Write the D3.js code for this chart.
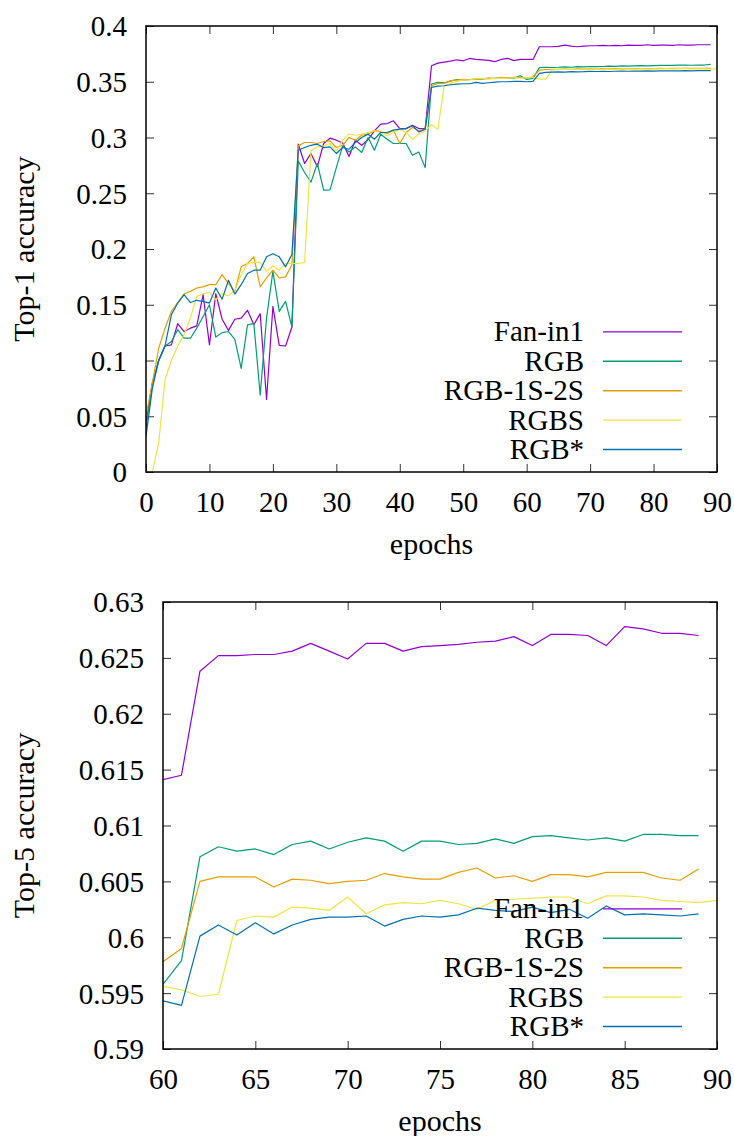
<!DOCTYPE html>
<html>
<head>
<meta charset="utf-8">
<script src="https://cdn.jsdelivr.net/npm/d3@7"></script>
<style>
  body { margin: 0; background: #fff; }
  svg text { font-family: "Liberation Serif"; fill: #000; }
</style>
</head>
<body>
<script>
// serienamn och färger (gnuplot standard)
var seriesNames = ["Fan-in1", "RGB", "RGB-1S-2S", "RGBS", "RGB*"];
var seriesColors = ["#9400d3", "#009e73", "#e69f00", "#f0e442", "#0072b2"];

// Top-1, epoker 0..89 (RGBS har även epok 90)
var top1Fanin = [0.045,0.08,0.1,0.113,0.114,0.133,0.126,0.129,0.131,0.159,0.114,0.16,0.137,0.127,0.137,0.138,0.145,0.132,0.142,0.065,
  0.1485,0.1135,0.113,0.13,0.294,0.2767,0.2857,0.2737,0.2946,0.2994,0.2976,0.295,0.283,0.2976,0.293,0.298,0.306,0.312,0.3125,0.315,
  0.308,0.308,0.311,0.308,0.308,0.3643,0.3667,0.3676,0.3685,0.3697,0.3688,0.3709,0.37,0.3697,0.3691,0.368,0.37,0.371,0.369,0.37,
  0.37,0.37,0.3814,0.3814,0.3814,0.3817,0.3829,0.382,0.3814,0.382,0.3823,0.3823,0.3826,0.3823,0.3826,0.3823,0.3829,0.3826,0.3826,0.3832,
  0.3826,0.3829,0.3829,0.3826,0.3832,0.3829,0.3829,0.3832,0.3832,0.3832];
var top1Rgb = [0.04,0.078,0.1,0.113,0.117,0.1276,0.12,0.12,0.129,0.1395,0.15,0.121,0.125,0.126,0.119,0.093,0.132,0.133,0.069,0.138,
  0.18,0.144,0.153,0.13,0.279,0.2686,0.26,0.2767,0.2528,0.253,0.273,0.2925,0.287,0.2916,0.2866,0.3,0.2886,0.303,0.2985,0.2946,
  0.2946,0.2946,0.284,0.287,0.273,0.348,0.3494,0.3491,0.3506,0.352,0.3515,0.352,0.3523,0.3526,0.353,0.3532,0.3538,0.3538,0.3532,0.3554,
  0.352,0.353,0.3628,0.363,0.3628,0.363,0.3634,0.363,0.3636,0.3634,0.3637,0.3636,0.3637,0.364,0.3638,0.3642,0.364,0.3643,0.3645,0.3643,
  0.3645,0.3646,0.3648,0.3646,0.3649,0.365,0.3648,0.365,0.365,0.3655];
var top1Rgb1s2s = [0.05,0.08,0.111,0.129,0.144,0.152,0.1596,0.162,0.165,0.166,0.168,0.168,0.177,0.169,0.162,0.184,0.187,0.193,0.166,0.174,
  0.181,0.174,0.175,0.186,0.2925,0.2955,0.2955,0.2946,0.2964,0.297,0.291,0.293,0.3,0.2976,0.302,0.303,0.3066,0.305,0.3036,0.3066,
  0.2946,0.3045,0.309,0.306,0.3075,0.3464,0.3485,0.3485,0.351,0.3515,0.3521,0.3518,0.3521,0.3527,0.3533,0.3527,0.354,0.3533,0.354,0.354,
  0.3533,0.3545,0.3605,0.361,0.3612,0.3612,0.3614,0.3612,0.3615,0.3614,0.3615,0.3614,0.3617,0.3615,0.3617,0.3616,0.3618,0.3618,0.3617,0.3619,
  0.3618,0.362,0.3619,0.362,0.362,0.3621,0.362,0.3621,0.3621,0.3622];
var top1Rgbs = [0,0,0.026,0.083,0.1,0.113,0.123,0.138,0.1575,0.16,0.161,0.1545,0.16,0.158,0.163,0.177,0.187,0.188,0.188,0.18,
  0.185,0.181,0.187,0.187,0.187,0.188,0.288,0.2916,0.2925,0.2946,0.288,0.2976,0.303,0.302,0.303,0.3045,0.306,0.3045,0.3015,0.3045,
  0.3075,0.3045,0.2985,0.303,0.306,0.3114,0.3075,0.3464,0.3485,0.3503,0.3515,0.3518,0.3527,0.3533,0.3524,0.3533,0.353,0.3533,0.3536,0.3533,
  0.3536,0.354,0.3524,0.3524,0.3605,0.3611,0.361,0.3612,0.361,0.3612,0.3613,0.3611,0.3613,0.3614,0.3613,0.3614,0.3615,0.3613,0.3615,0.3616,
  0.3615,0.3616,0.3617,0.3615,0.3617,0.3617,0.3616,0.3616,0.3615,0.3614,0.3616];
var top1RgbStar = [0.032,0.075,0.1,0.113,0.141,0.1515,0.159,0.152,0.154,0.153,0.1515,0.165,0.155,0.172,0.1596,0.168,0.178,0.181,0.181,0.193,
  0.1957,0.193,0.184,0.195,0.2886,0.291,0.293,0.294,0.291,0.2916,0.2857,0.291,0.2895,0.2955,0.3,0.303,0.2985,0.3045,0.3045,0.3066,
  0.3075,0.308,0.3105,0.305,0.3075,0.345,0.3461,0.3464,0.3473,0.3479,0.3482,0.3482,0.3494,0.3485,0.3491,0.3497,0.35,0.35,0.3503,0.3503,
  0.35,0.3503,0.3575,0.3584,0.3587,0.3588,0.3587,0.359,0.3589,0.359,0.3593,0.3592,0.3593,0.3592,0.3594,0.3595,0.3594,0.3596,0.3596,0.3597,
  0.3596,0.3597,0.3598,0.3597,0.3598,0.3599,0.3598,0.3599,0.3599,0.36];

// Top-5, epoker 60..89 (RGBS 60..90)
var top5Fanin = [0.6141,0.6145,0.6238,0.6252,0.6252,0.6253,0.6253,0.6256,0.6263,0.6256,0.6249,0.6263,0.6263,0.6256,0.626,
  0.6261,0.6262,0.6264,0.6265,0.6269,0.6261,0.6271,0.6271,0.627,0.6261,0.6278,0.6276,0.6272,0.6272,0.627];
var top5Rgb = [0.5958,0.5979,0.6072,0.6081,0.6077,0.6079,0.6074,0.6083,0.6086,0.6079,0.6085,0.6089,0.6086,0.6077,0.6086,
  0.6086,0.6083,0.6084,0.6088,0.6084,0.609,0.6091,0.6089,0.6087,0.6089,0.6086,0.6092,0.6092,0.6091,0.6091];
var top5Rgb1s2s = [0.5978,0.599,0.605,0.6054,0.6054,0.6054,0.6045,0.6052,0.6051,0.6048,0.605,0.6051,0.6057,0.6054,0.6052,
  0.6052,0.6058,0.6062,0.6053,0.6055,0.605,0.6056,0.6056,0.6054,0.6058,0.6058,0.6058,0.6053,0.6051,0.6061];
var top5Rgbs = [0.5956,0.5953,0.5947,0.5949,0.6015,0.6019,0.6018,0.6027,0.6026,0.6024,0.6036,0.6021,0.6029,0.6031,0.603,
  0.6033,0.603,0.6025,0.6033,0.6034,0.6035,0.6036,0.6036,0.603,0.6037,0.6037,0.6036,0.6033,0.6032,0.6031,0.6033];
var top5RgbStar = [0.5943,0.5939,0.6001,0.6011,0.6002,0.6013,0.6003,0.6011,0.6016,0.6018,0.6018,0.6019,0.601,0.6016,0.6019,
  0.6018,0.602,0.6026,0.6024,0.6023,0.6027,0.6022,0.6025,0.6017,0.6028,0.602,0.6021,0.602,0.6019,0.6021];

// tick-värden
var top1XTicks = [0,10,20,30,40,50,60,70,80,90];
var top1YTicks = [0,0.05,0.1,0.15,0.2,0.25,0.3,0.35,0.4];
var top5XTicks = [60,65,70,75,80,85,90];
var top5YTicks = [0.59,0.595,0.6,0.605,0.61,0.615,0.62,0.625,0.63];

var fontName = "Liberation Serif";
var fontSize = 29;   // ticks och legend
var titleSize = 30;  // axeltitlar

var svg = d3.select("body").append("svg")
  .attr("width", 734).attr("height", 1136);

function drawPanel(id, box, xDomain, yDomain, xTicks, yTicks, firstEpoch, series, yLabel)
{
  var w = box.right - box.left, h = box.bottom - box.top;
  var xScale = d3.scaleLinear().domain(xDomain).range([0, w]);
  var yScale = d3.scaleLinear().domain(yDomain).range([h, 0]);

  var g = svg.append("g").attr("transform", "translate(" + box.left + "," + box.top + ")");

  g.append("clipPath").attr("id", id).append("rect")
    .attr("width", w).attr("height", h);

  var fmt = function(d) { return String(+d.toFixed(3)); };
  var tickLen = 8;

  // axlar, tickmarks inåt på alla sidor (gnuplot-stil)
  var axB = g.append("g").attr("transform", "translate(0," + h + ")")
    .call(d3.axisBottom(xScale).tickValues(xTicks).tickFormat(fmt).tickSize(-tickLen).tickPadding(14));
  var axT = g.append("g")
    .call(d3.axisTop(xScale).tickValues(xTicks).tickFormat("").tickSize(-tickLen));
  var axL = g.append("g")
    .call(d3.axisLeft(yScale).tickValues(yTicks).tickFormat(fmt).tickSize(-tickLen).tickPadding(19));
  var axR = g.append("g").attr("transform", "translate(" + w + ",0)")
    .call(d3.axisRight(yScale).tickValues(yTicks).tickFormat("").tickSize(-tickLen));

  [axB, axT, axL, axR].forEach(function(a) {
    a.attr("font-family", fontName).attr("font-size", fontSize);
    a.select(".domain").remove();
    a.selectAll(".tick line").attr("stroke", "#333").attr("stroke-width", 1);
  });
  axB.selectAll("text").attr("dy", "0.71em").attr("y", 19);
  axL.selectAll("text").attr("dy", "0.34em");

  // linjer
  var line = d3.line()
    .x(function(d, i) { return xScale(firstEpoch + i); })
    .y(function(d) { return yScale(d); });

  var lines = g.append("g").attr("clip-path", "url(#" + id + ")");
  for (var s = 0; s < series.length; s++)
  {
    lines.append("path").datum(series[s])
      .attr("d", line)
      .attr("fill", "none")
      .attr("stroke", seriesColors[s])
      .attr("stroke-width", 1.2)
      .attr("stroke-linejoin", "round");
  }

  // legend nere till höger
  var rowH = 29.4;
  var leg = g.append("g").attr("font-family", fontName).attr("font-size", fontSize);
  for (var k = 0; k < seriesNames.length; k++)
  {
    var ly = h - 22.5 - (seriesNames.length - 1 - k) * rowH;
    leg.append("text")
      .attr("x", w - 133).attr("y", ly).attr("dy", "0.33em")
      .attr("text-anchor", "end")
      .text(seriesNames[k]);
    leg.append("line")
      .attr("x1", w - 114).attr("x2", w - 35)
      .attr("y1", ly).attr("y2", ly)
      .attr("stroke", seriesColors[k]).attr("stroke-width", 1.4);
  }

  // ram
  g.append("rect").attr("width", w).attr("height", h)
    .attr("fill", "none").attr("stroke", "#000").attr("stroke-width", 1.5);

  // axeltitlar
  svg.append("text")
    .attr("transform", "translate(34," + (box.top + h / 2) + ") rotate(-90)")
    .attr("text-anchor", "middle").attr("font-family", fontName).attr("font-size", titleSize)
    .text(yLabel);
  svg.append("text")
    .attr("x", box.left + w / 2).attr("y", box.bottom + 82)
    .attr("text-anchor", "middle").attr("font-family", fontName).attr("font-size", titleSize)
    .text("epochs");
}

drawPanel("clipTop1", {left: 146, top: 26, right: 717, bottom: 472}, [0, 90], [0, 0.4],
  top1XTicks, top1YTicks, 0,
  [top1Fanin, top1Rgb, top1Rgb1s2s, top1Rgbs, top1RgbStar], "Top-1 accuracy");

drawPanel("clipTop5", {left: 163, top: 602, right: 717, bottom: 1049}, [60, 90], [0.59, 0.63],
  top5XTicks, top5YTicks, 60,
  [top5Fanin, top5Rgb, top5Rgb1s2s, top5Rgbs, top5RgbStar], "Top-5 accuracy");
</script>
</body>
</html>
